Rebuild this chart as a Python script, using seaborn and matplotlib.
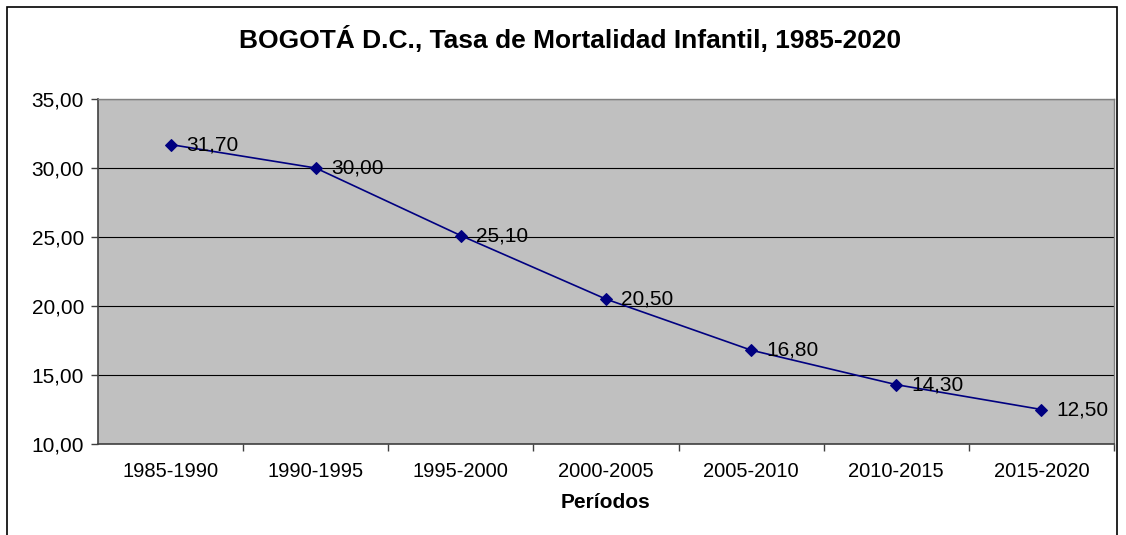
import pandas as pd
import seaborn as sns
import matplotlib.pyplot as plt
from matplotlib.patches import Rectangle

# Data
periodos = ["1985-1990", "1990-1995", "1995-2000", "2000-2005",
            "2005-2010", "2010-2015", "2015-2020"]
tasa = [31.70, 30.00, 25.10, 20.50, 16.80, 14.30, 12.50]
y_ticks = [10, 15, 20, 25, 30, 35]

df = pd.DataFrame({"periodo": periodos, "tasa": tasa})
df["x"] = range(len(periodos))

sns.set_style("white")
plt.rcParams["font.family"] = ["Liberation Sans", "DejaVu Sans"]
plt.rcParams["text.color"] = "black"
plt.rcParams["xtick.color"] = "black"
plt.rcParams["ytick.color"] = "black"

fig = plt.figure(figsize=(11.26, 5.35), dpi=100)
ax = fig.add_axes([98 / 1126, 1 - 444 / 535, (1114 - 98) / 1126, (444 - 99) / 535])
ax.set_facecolor("#C0C0C0")

# outer chart border
fig.patches.append(Rectangle((7 / 1126, -0.05), (1117 - 7) / 1126, 1 - 7 / 535 + 0.05,
                             transform=fig.transFigure, fill=False,
                             edgecolor="black", linewidth=1.2, zorder=0))

sns.lineplot(data=df, x="x", y="tasa", ax=ax, color="#000080", linewidth=1.2,
             marker="D", markersize=6, markeredgecolor="#000080", zorder=3)

for xi, v in zip(df["x"], df["tasa"]):
    ax.annotate(f"{v:.2f}".replace(".", ","), (xi, v), xytext=(11, 0),
                textcoords="offset points", ha="left", va="center",
                fontsize=15, color="black", zorder=4)

ax.set_xlim(-0.5, len(periodos) - 0.5)
ax.set_ylim(10, 35)
ax.set_yticks(y_ticks)
ax.set_yticklabels([f"{t:.2f}".replace(".", ",") for t in y_ticks], fontsize=15)
ax.yaxis.grid(True, color="black", linewidth=0.8)
ax.set_axisbelow(True)

ax.set_xticks(df["x"])
ax.set_xticklabels(periodos, fontsize=14.5)
ax.set_xticks([i + 0.5 for i in range(len(periodos))], minor=True)
ax.tick_params(axis="x", which="major", length=0, pad=13, labelcolor="black")
ax.tick_params(axis="x", which="minor", length=5, width=1, color="#404040", bottom=True)
ax.tick_params(axis="y", length=5, width=1, color="#404040", left=True, pad=5,
               labelcolor="black")

for s in ["left", "bottom"]:
    ax.spines[s].set_color("#404040")
    ax.spines[s].set_linewidth(1.2)
for s in ["top", "right"]:
    ax.spines[s].set_color("#808080")
    ax.spines[s].set_linewidth(1.0)

ax.set_xlabel("")
ax.set_ylabel("")
fig.text(606 / 1126, 1 - 503 / 535, "Períodos", ha="center", va="center",
         fontsize=15, fontweight="bold", color="black")

fig.text(570 / 1126, 1 - 40 / 535, "BOGOTÁ D.C., Tasa de Mortalidad Infantil, 1985-2020",
         ha="center", va="center", fontsize=19, fontweight="bold", color="black")

fig.savefig("out.png", dpi=100)
